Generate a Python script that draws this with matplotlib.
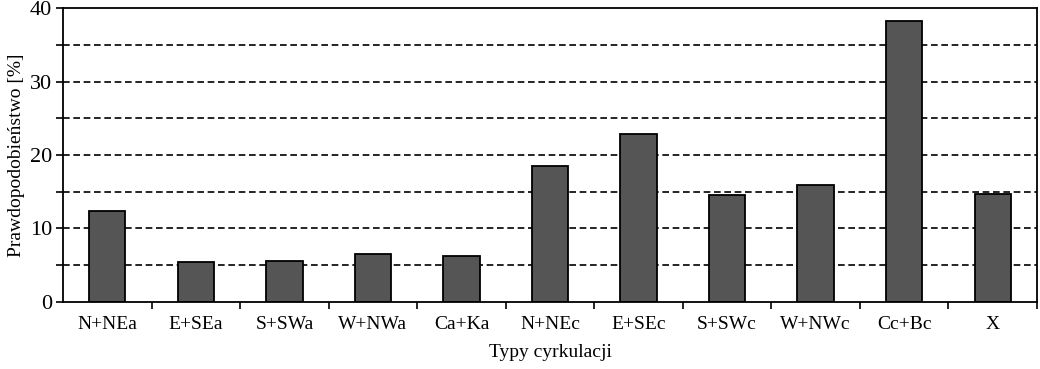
import matplotlib
matplotlib.use("Agg")
import matplotlib.pyplot as plt
import numpy as np

categories = ["N+NEa", "E+SEa", "S+SWa", "W+NWa", "Ca+Ka",
              "N+NEc", "E+SEc", "S+SWc", "W+NWc", "Cc+Bc", "X"]
values = [12.4, 5.4, 5.6, 6.5, 6.2, 18.5, 22.9, 14.5, 15.9, 38.2, 14.7]
yticks = [0, 10, 20, 30, 40]
gridlevels = [5, 10, 15, 20, 25, 30, 35]

plt.rcParams['font.family'] = ['Liberation Serif', 'DejaVu Serif']
plt.rcParams['font.size'] = 14

fig = plt.figure(figsize=(10.4, 3.69), dpi=100)
ax = fig.add_axes([0.0606, 0.182, 0.9365, 0.796])

x = np.arange(len(categories))
for g in gridlevels:
    ax.axhline(g, color='black', linestyle=(0, (4, 2.2)), linewidth=1.2, zorder=1)
ax.bar(x, values, width=0.41, color='#555555', edgecolor='black',
       linewidth=1.3, zorder=2)

ax.set_xlim(-0.5, len(categories) - 0.5)
ax.set_ylim(0, 40)
ax.set_yticks(yticks)
ax.set_yticks(gridlevels, minor=True)
ax.tick_params(axis='y', which='both', direction='out', length=5, width=1.2,
               labelsize=16, pad=3)

ax.set_xticks(x)
ax.set_xticklabels(categories)
ax.tick_params(axis='x', which='major', length=0, pad=10)
ax.set_xticks(np.arange(len(categories)) + 0.5, minor=True)
ax.tick_params(axis='x', which='minor', direction='out', length=5, width=1.2)

for s in ax.spines.values():
    s.set_linewidth(1.3)

ax.set_xlabel("Typy cyrkulacji", labelpad=8)
ax.set_ylabel("Prawdopodobieństwo [%]", labelpad=3)

fig.savefig("out.png", dpi=100)
